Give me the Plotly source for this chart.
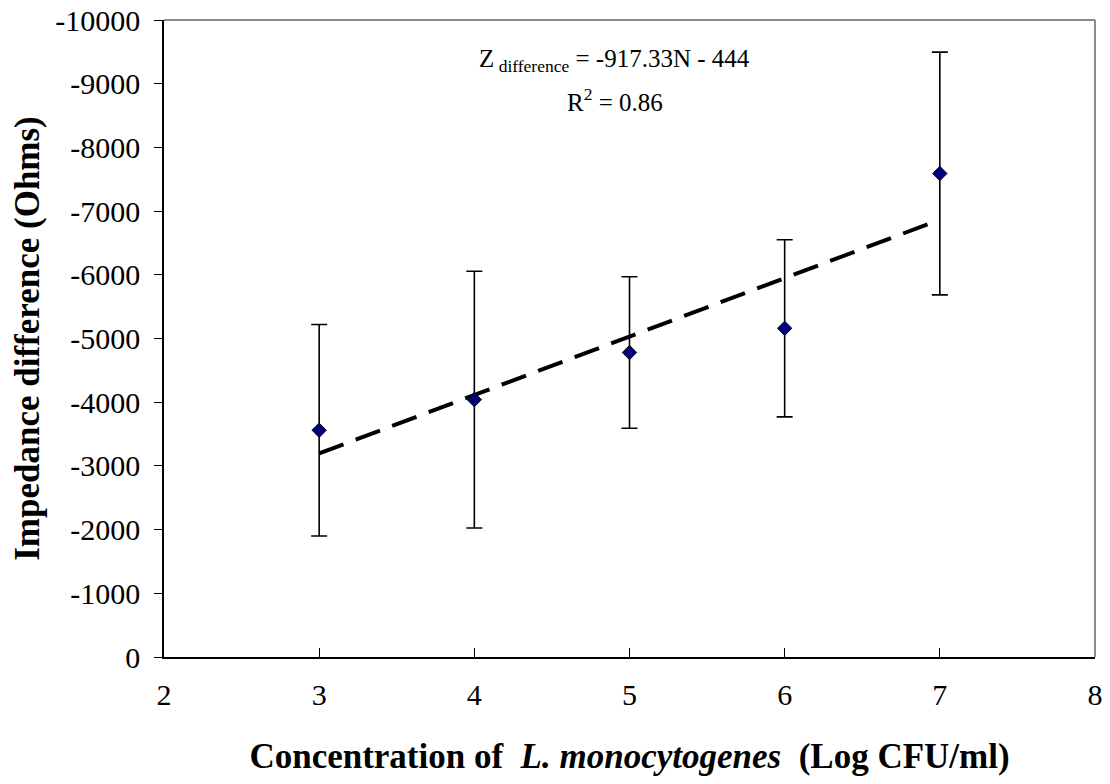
import plotly.graph_objects as go

# Data
concentration = [3, 4, 5, 6, 7]
impedance_diff = [-3560, -4040, -4780, -5160, -7590]
error_bars = [1660, 2015, 1190, 1390, 1905]
trend_slope = -917.33
trend_intercept = -444
y_ticks = [0, -1000, -2000, -3000, -4000, -5000, -6000, -7000, -8000, -9000, -10000]
x_ticks = [2, 3, 4, 5, 6, 7, 8]

FONT = "Liberation Serif, Times New Roman, serif"

fig = go.Figure()

trend_x = [concentration[0], concentration[-1]]
trend_y = [trend_slope * x + trend_intercept for x in trend_x]
fig.add_trace(go.Scatter(
    x=trend_x, y=trend_y, mode="lines",
    line=dict(color="black", width=4, dash="26px,13px"),
    showlegend=False, hoverinfo="skip"))

fig.add_trace(go.Scatter(
    x=concentration, y=impedance_diff, mode="markers",
    marker=dict(symbol="diamond", size=11, color="#000080",
                line=dict(color="black", width=1)),
    error_y=dict(type="data", array=error_bars, visible=True,
                 color="black", thickness=1.6, width=8),
    showlegend=False))

fig.update_layout(
    width=1094, height=768,
    margin=dict(l=156, r=7, t=12, b=119, autoexpand=False),
    paper_bgcolor="white", plot_bgcolor="white",
    font=dict(family=FONT, size=30, color="black"),
    xaxis=dict(range=[2, 8], tickvals=x_ticks, ticktext=[str(v) for v in x_ticks],
               ticks="inside", ticklen=9, tickcolor="black", tickwidth=1,
               ticklabelstandoff=10, ticklabeloverflow="allow",
               showline=True, linecolor="black", linewidth=1.5,
               showgrid=False, zeroline=False,
               tickfont=dict(family=FONT, size=30),
               title=dict(text="<b>Concentration of  <i>L. monocytogenes</i>  (Log CFU/ml)</b>",
                          font=dict(family=FONT, size=35), standoff=34)),
    yaxis=dict(range=[0, -10000], tickvals=y_ticks, ticktext=[str(v) for v in y_ticks],
               ticks="outside", ticklen=8, tickcolor="black", tickwidth=1,
               ticklabelstandoff=8, ticklabeloverflow="allow",
               showline=True, linecolor="black", linewidth=1.5,
               showgrid=False, zeroline=False,
               tickfont=dict(family=FONT, size=30),
               title=dict(text="<b>Impedance difference (Ohms)</b>",
                          font=dict(family=FONT, size=35), standoff=14)),
)

# top and right border of plot area (gray)
fig.add_shape(type="line", xref="paper", yref="paper", x0=0, x1=1, y0=1, y1=1,
              line=dict(color="#666666", width=1.5))
fig.add_shape(type="line", xref="paper", yref="paper", x0=1, x1=1, y0=0, y1=1,
              line=dict(color="#666666", width=1.5))

fig.add_annotation(x=0.484, y=-9360, xref="paper", yref="y",
                   text="Z<sub> difference</sub> = -917.33N - 444",
                   showarrow=False, font=dict(family=FONT, size=25))
fig.add_annotation(x=0.484, y=-8750, xref="paper", yref="y",
                   text="R<sup>2</sup> = 0.86",
                   showarrow=False, font=dict(family=FONT, size=25))

fig.write_html("out.html")
